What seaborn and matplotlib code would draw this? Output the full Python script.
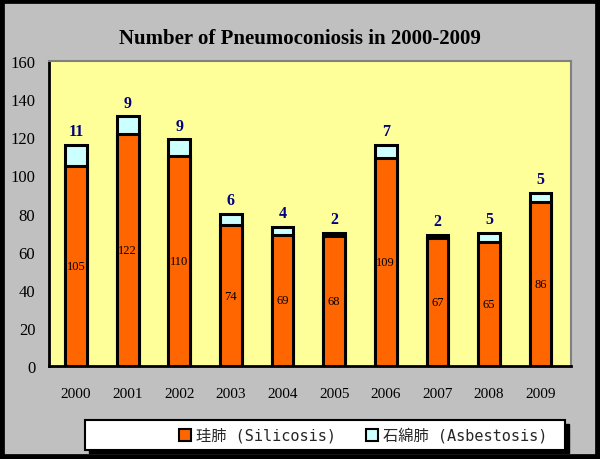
import numpy as np
import pandas as pd
import matplotlib
matplotlib.use("Agg")
import matplotlib.pyplot as plt
import matplotlib.patches as mpatches
import seaborn as sns

years = ["2000", "2001", "2002", "2003", "2004", "2005", "2006", "2007", "2008", "2009"]
silicosis = [105, 122, 110, 74, 69, 68, 109, 67, 65, 86]
asbestosis = [11, 9, 9, 6, 4, 2, 7, 2, 5, 5]

df = pd.DataFrame({"year": years, "silicosis": silicosis, "asbestosis": asbestosis})
df["total"] = df["silicosis"] + df["asbestosis"]

sns.set_theme(style="white")
plt.rcParams["font.family"] = ["Liberation Serif", "DejaVu Serif"]

fig = plt.figure(figsize=(6, 4.6), dpi=100)
fig.patch.set_facecolor("#C0C0C0")
ax = fig.add_axes([0.082, 0.202, 0.869, 0.663])
ax.set_facecolor("#FFFF99")

# stacked bars: total (asbestosis on top) then silicosis
sns.barplot(data=df, x="year", y="total", color="#CCFFFF", saturation=1,
            width=0.42, edgecolor="black", linewidth=2.2, ax=ax)
sns.barplot(data=df, x="year", y="silicosis", color="#FF6600", saturation=1,
            width=0.42, edgecolor="black", linewidth=2.2, ax=ax)

for i, row in df.iterrows():
    ax.text(i, row["silicosis"] / 2, str(row["silicosis"]), ha="center", va="center",
            fontsize=9, color="black")
    ax.text(i, row["total"] + 3, str(row["asbestosis"]), ha="center", va="bottom",
            fontsize=11.5, fontweight="bold", color="#000080")

ax.set_ylim(0, 160)
ax.set_xlim(-0.52, 9.58)
ax.set_yticks(range(0, 161, 20))
ax.set_xlabel("")
ax.set_ylabel("")
ax.set_xticks(np.arange(-0.5, 9.6, 1), minor=True)
ax.tick_params(axis="x", which="major", length=0, labelsize=11, pad=15)
ax.tick_params(axis="x", which="minor", direction="in", length=4, width=1.5, color="black")
ax.tick_params(axis="y", direction="in", length=4, width=1.5, color="black", labelsize=12, pad=10)
for lab in ax.get_xticklabels() + ax.get_yticklabels():
    lab.set_color("black")

for side in ["left", "bottom"]:
    ax.spines[side].set_color("black")
    ax.spines[side].set_linewidth(2)
for side in ["top", "right"]:
    ax.spines[side].set_color("#808080")
    ax.spines[side].set_linewidth(1.5)

fig.text(0.5, 0.915, "Number of Pneumoconiosis in 2000-2009", ha="center", va="center",
         fontsize=15, fontweight="bold", color="black")

# legend box with shadow
shadow = mpatches.Rectangle((0.148, 0.012), 0.8, 0.064, transform=fig.transFigure,
                            facecolor="black", edgecolor="black", zorder=1)
box = mpatches.Rectangle((0.142, 0.02), 0.8, 0.064, transform=fig.transFigure,
                         facecolor="white", edgecolor="black", linewidth=1.5, zorder=2)
fig.patches.extend([shadow, box])

handles = [mpatches.Patch(facecolor="#FF6600", edgecolor="black", linewidth=1.5),
           mpatches.Patch(facecolor="#CCFFFF", edgecolor="black", linewidth=1.5)]
leg = fig.legend(handles, ["珪肺 (Silicosis)", "石綿肺 (Asbestosis)"],
                 loc="center right", bbox_to_anchor=(0.935, 0.052), ncol=2,
                 frameon=False, handlelength=0.8, handleheight=0.8, handletextpad=0.3,
                 columnspacing=2.0,
                 prop={"family": ["DejaVu Sans Mono", "Noto Sans CJK JP"], "size": 11})
leg.set_zorder(3)

border = mpatches.Rectangle((0, 0), 1, 1, transform=fig.transFigure, fill=False,
                            edgecolor="black", linewidth=7, zorder=10)
fig.patches.append(border)

fig.savefig("out.png", dpi=100, facecolor=fig.get_facecolor())
